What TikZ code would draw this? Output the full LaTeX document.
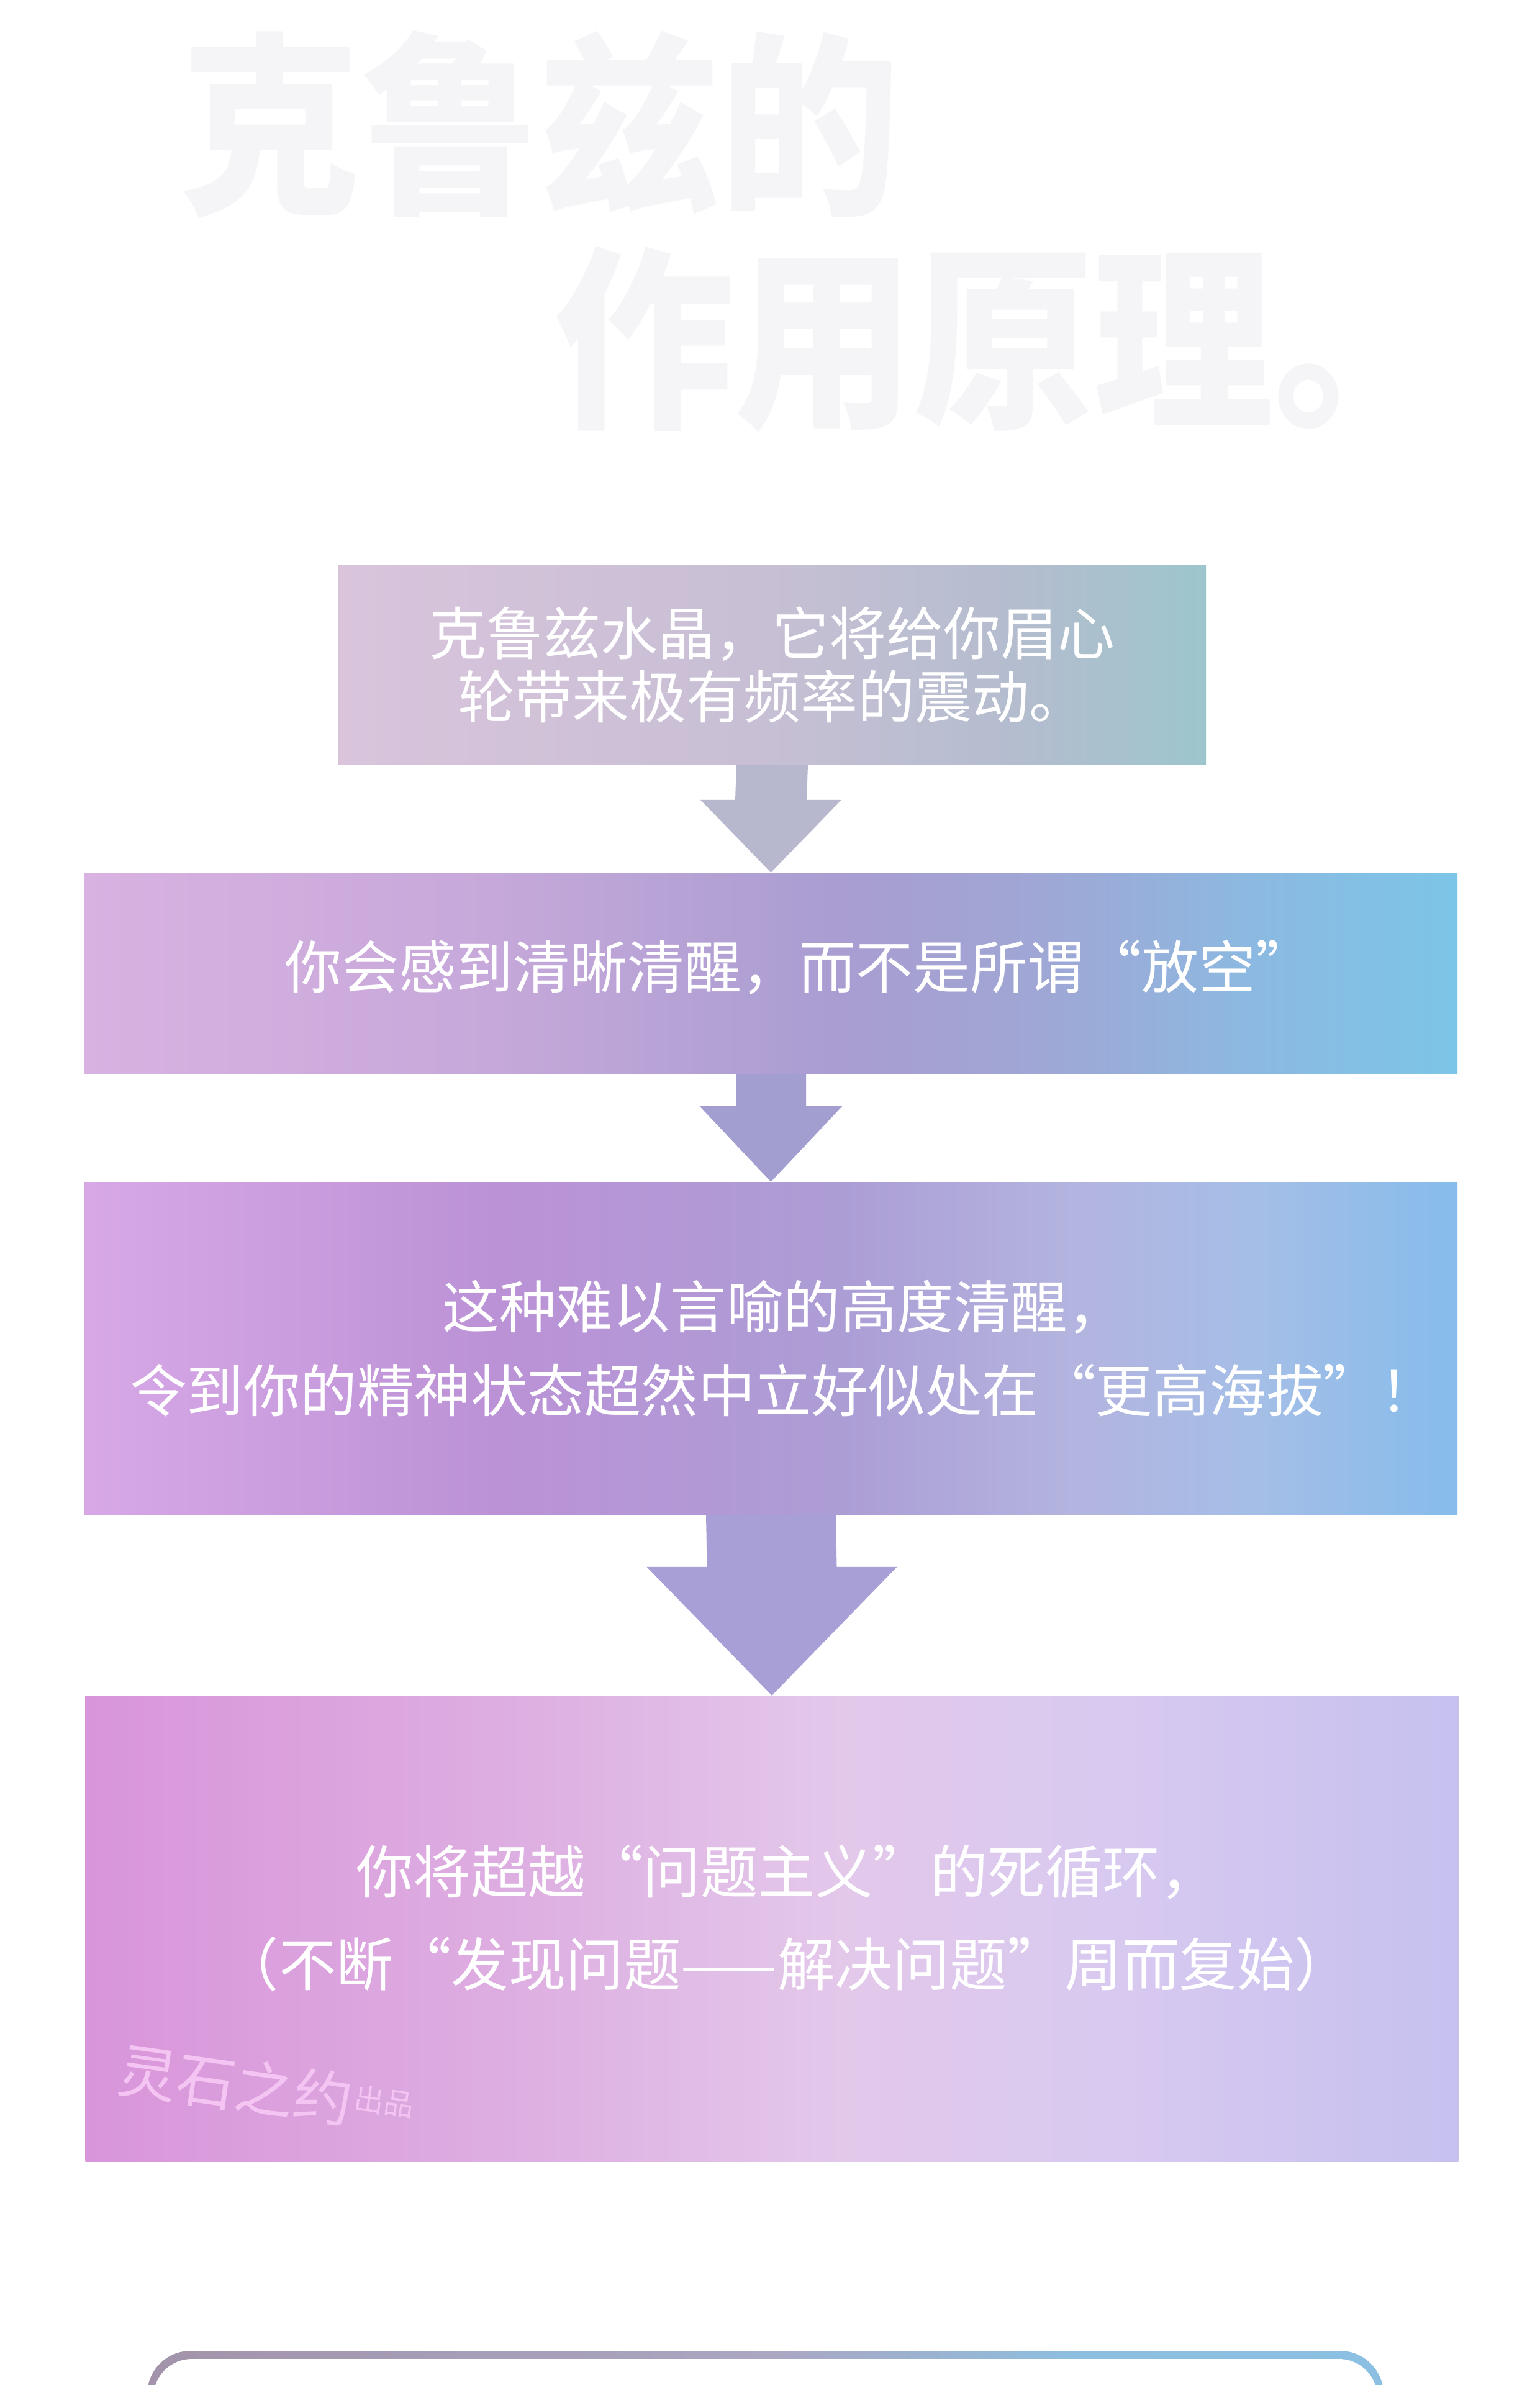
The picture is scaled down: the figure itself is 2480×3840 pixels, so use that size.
\documentclass[tikz,border=0pt]{standalone}
\usepackage{fontspec}
\newfontfamily\cjk{Noto Sans CJK SC}
\newfontfamily\cjkq{Noto Sans CJK SC}[RawFeature=+fwid]
\usetikzlibrary{calc}
\newcommand\myoq{{\cjkq “}}
\newcommand\mycq{{\cjkq ”}}
% colours
\definecolor{titlec}{HTML}{F5F5F7}
\definecolor{wmc}{HTML}{F4C4F2}
\definecolor{ca1}{HTML}{D9C4DC}\definecolor{ca2}{HTML}{C7BFD4}\definecolor{ca3}{HTML}{B2BDCE}\definecolor{ca4}{HTML}{9DC6CC}
\definecolor{cb1}{HTML}{D8B2E1}\definecolor{cb2}{HTML}{C6A8DA}\definecolor{cb3}{HTML}{A99DD1}\definecolor{cb4}{HTML}{9FA7D5}\definecolor{cb5}{HTML}{8CB9E1}\definecolor{cb6}{HTML}{7CC5E8}
\definecolor{cc1}{HTML}{D8A8E6}\definecolor{cc2}{HTML}{BB92D6}\definecolor{cc3}{HTML}{AC9DD5}\definecolor{cc4}{HTML}{B3B4DF}\definecolor{cc5}{HTML}{A5BEE7}\definecolor{cc6}{HTML}{86BCEB}
\definecolor{cd1}{HTML}{D995DA}\definecolor{cd2}{HTML}{DDADE1}\definecolor{cd3}{HTML}{E3C8EA}\definecolor{cd4}{HTML}{D8C9F0}\definecolor{cd5}{HTML}{C6C1EF}
\definecolor{cf1}{HTML}{A293AA}\definecolor{cf2}{HTML}{ABA6C2}\definecolor{cf3}{HTML}{8DBEDF}\definecolor{cf4}{HTML}{8CC0E2}
\definecolor{arrA}{HTML}{B7B7CE}
\definecolor{arrB}{HTML}{A29ED0}
\definecolor{arrC}{HTML}{A89FD6}
\pgfdeclarehorizontalshading{sA}{100bp}{color(0bp)=(ca1); color(25bp)=(ca1); color(50bp)=(ca2); color(65bp)=(ca3); color(75bp)=(ca4); color(100bp)=(ca4)}
\pgfdeclarehorizontalshading{sB}{100bp}{color(0bp)=(cb1); color(25bp)=(cb1); color(40bp)=(cb2); color(52.5bp)=(cb3); color(60bp)=(cb4); color(67.5bp)=(cb5); color(75bp)=(cb6); color(100bp)=(cb6)}
\pgfdeclarehorizontalshading{sC}{100bp}{color(0bp)=(cc1); color(25bp)=(cc1); color(40bp)=(cc2); color(52.5bp)=(cc3); color(61bp)=(cc4); color(67.5bp)=(cc5); color(75bp)=(cc6); color(100bp)=(cc6)}
\pgfdeclarehorizontalshading{sD}{100bp}{color(0bp)=(cd1); color(25bp)=(cd1); color(40bp)=(cd2); color(52.5bp)=(cd3); color(62.5bp)=(cd4); color(75bp)=(cd5); color(100bp)=(cd5)}
\pgfdeclarehorizontalshading{sF}{100bp}{color(0bp)=(cf1); color(25bp)=(cf1); color(50bp)=(cf2); color(62.5bp)=(cf3); color(75bp)=(cf4); color(100bp)=(cf4)}
% block arrow: colour, from node, to node, half shaft, half head, head length
\newcommand\blockarrow[6]{%
  \fill[#1] ($(#2.south)+(-#4,0)$) -- ($(#3.north)+(-#4,-#6)$) -- ($(#3.north)+(-#5,-#6)$)
    -- (#3.north) -- ($(#3.north)+(#5,-#6)$) -- ($(#3.north)+(#4,-#6)$) -- ($(#2.south)+(#4,0)$) -- cycle;}
\begin{document}
\begin{tikzpicture}[x=1pt,y=-1pt,
  titletext/.style={anchor=west, inner sep=0pt, text=titlec, font=\cjk\bfseries\fontsize{315}{315}\selectfont},
  box/.style={shade, draw=none, inner sep=0pt},
  boxtext/.style={inner sep=0pt, text=white, align=center},
  wmtext/.style={inner sep=0pt, text=wmc, rotate=-8}]
\fill[white] (0,0) rectangle (2480,3840);
\useasboundingbox (0,0) rectangle (2480,3840);

% title
\node[titletext] (tA) at (290,200) {\scalebox{0.92}[1]{克鲁兹的}};
\node[titletext] (tB) at (892,546) {\scalebox{0.92}[1]{作用原理。}};

% boxes
\node[box, shading=sA, minimum width=1397pt, minimum height=322pt] (b1) at (1243.5,1070) {};
\node[box, shading=sB, minimum width=2211pt, minimum height=324pt] (b2) at (1241.5,1567) {};
\node[box, shading=sC, minimum width=2211pt, minimum height=536pt] (b3) at (1241.5,2171) {};
\node[box, shading=sD, minimum width=2211pt, minimum height=750pt] (b4) at (1243,3105) {};

% texts
\node[boxtext, font=\cjk\fontsize{92}{102}\selectfont] (t1) at (b1.center)
  {克鲁兹水晶，它将给你眉心\\轮带来极有频率的震动。};
\node[boxtext, font=\cjk\fontsize{92}{102}\selectfont] (t2) at ([xshift=45pt,yshift=10pt]b2.center)
  {你会感到清晰清醒，而不是所谓\myoq 放空\mycq};
\node[boxtext, font=\cjk\fontsize{91.5}{135}\selectfont] (t3) at ([xshift=20pt]b3.center)
  {这种难以言喻的高度清醒，\\令到你的精神状态超然中立好似处在\myoq 更高海拔\mycq！};
\node[boxtext, font=\cjk\fontsize{92.5}{149}\selectfont] (t4) at ([xshift=24pt,yshift=17pt]b4.center)
  {你将超越\myoq 问题主义\mycq 的死循环，\\（不断\myoq 发现问题——解决问题\mycq 周而复始）};

% watermark
\node[wmtext, anchor=base west, font=\cjk\fontsize{95}{95}\selectfont] (wm) at (186,3366) {灵石之约};
\node[wmtext, anchor=base west, font=\cjk\fontsize{48}{48}\selectfont] (wm2) at ([xshift=6pt,yshift=24pt]wm.base east) {出品};

% arrows
\blockarrow{arrA}{b1}{b2}{57.5}{113.5}{117}
\blockarrow{arrB}{b2}{b3}{56.5}{115}{122}
\blockarrow{arrC}{b3}{b4}{104.5}{201.5}{207}

% bottom frame
\shade[shading=sF, rounded corners=70pt] (237,3785) rectangle (2228,3990);
\fill[white, rounded corners=62pt] (247,3798) rectangle (2218,3990);
\end{tikzpicture}
\end{document}
